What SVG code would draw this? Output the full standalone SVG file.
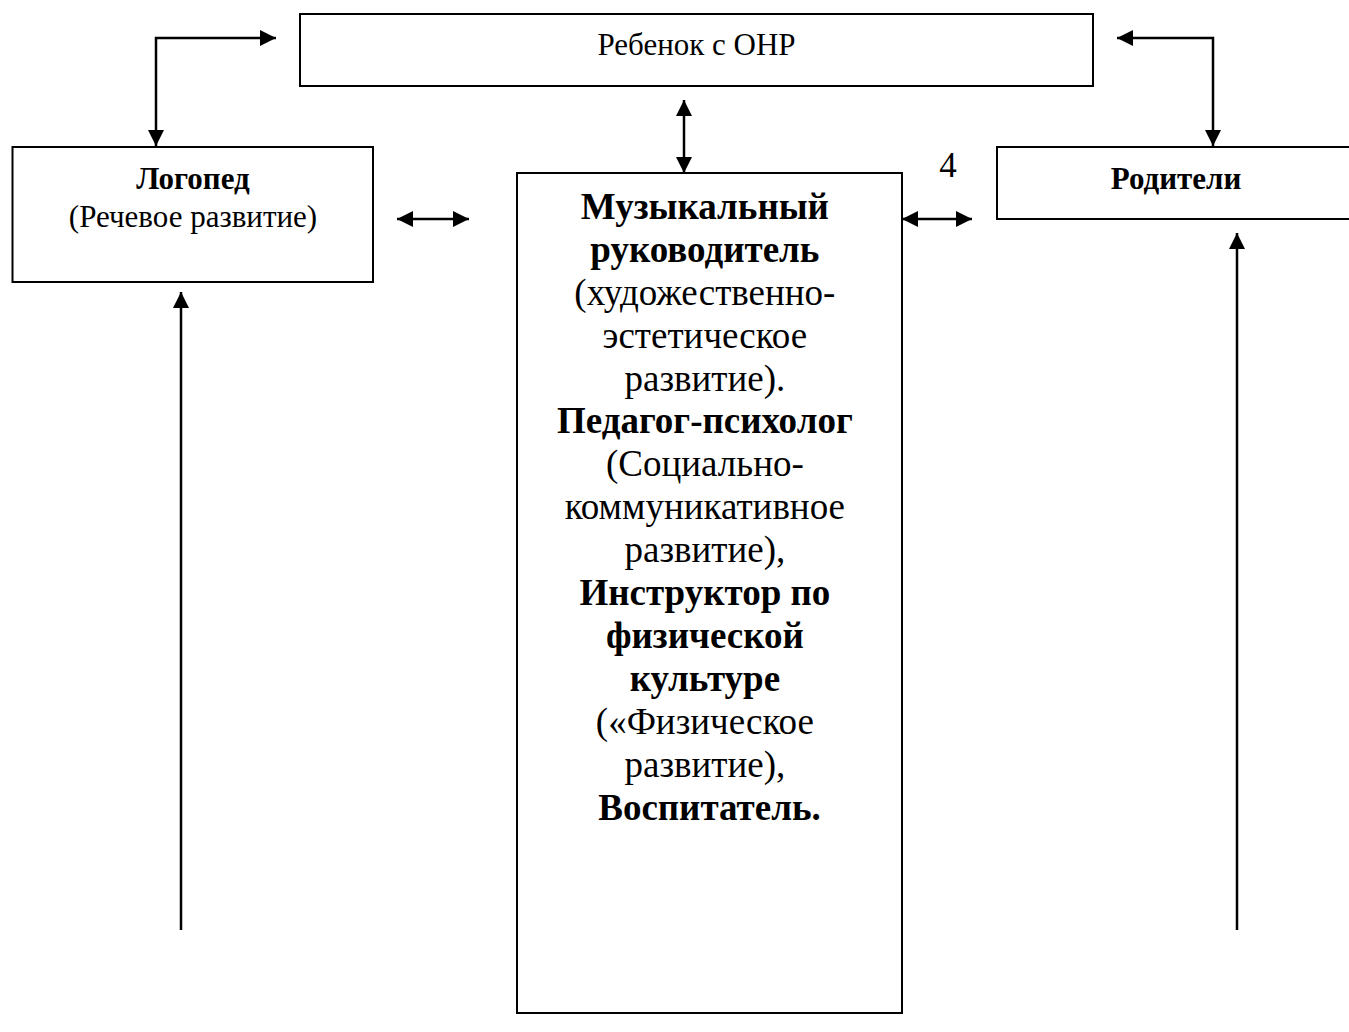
<svg xmlns="http://www.w3.org/2000/svg" width="1349" height="1032" viewBox="0 0 1349 1032">
<style>
.box{fill:#fff;stroke:#000;stroke-width:2}
.t{font-family:"Liberation Serif","Times New Roman",serif;fill:#000;text-anchor:middle}
.b{font-weight:bold}
.c{fill:none;stroke:#000;stroke-width:2.5}
</style>
<defs>
<marker id="ah" markerUnits="userSpaceOnUse" viewBox="0 0 16 16" refX="16" refY="8" markerWidth="16" markerHeight="16" orient="auto-start-reverse">
<path d="M0,0 L16,8 L0,16 Z" fill="#000"/>
</marker>
</defs>
<rect width="1349" height="1032" fill="#fff"/>
<g id="child">
<rect class="box" x="300" y="14" width="793" height="72"/>
<text class="t" x="696.5" y="55" font-size="31">Ребенок с ОНР</text>
</g>
<g id="logoped">
<rect class="box" x="12.5" y="147" width="360.5" height="135"/>
<text class="t b" x="193" y="189" font-size="31">Логопед</text>
<text class="t" x="193" y="227" font-size="31">(Речевое развитие)</text>
</g>
<g id="music">
<rect class="box" x="517" y="173" width="385" height="840"/>
<text class="t" font-size="37">
<tspan class="b" x="709.5" y="219">Музыкальный</tspan>
<tspan class="b" x="709.5" y="262">руководитель</tspan>
<tspan x="709.5" y="305">(художественно-</tspan>
<tspan x="709.5" y="348">эстетическое</tspan>
<tspan x="709.5" y="391">развитие).</tspan>
<tspan class="b" x="709.5" y="433">Педагог-психолог</tspan>
<tspan x="709.5" y="476">(Социально-</tspan>
<tspan x="709.5" y="519">коммуникативное</tspan>
<tspan x="709.5" y="562">развитие),</tspan>
<tspan class="b" x="709.5" y="605">Инструктор по</tspan>
<tspan class="b" x="709.5" y="648">физической</tspan>
<tspan class="b" x="709.5" y="691">культуре</tspan>
<tspan x="709.5" y="734">(«Физическое</tspan>
<tspan x="709.5" y="777">развитие),</tspan>
<tspan class="b" x="709.5" y="820">Воспитатель.</tspan>
</text>
</g>
<g id="parents">
<rect class="box" x="997" y="147" width="360" height="72"/>
<text class="t b" x="1176" y="189" font-size="31">Родители</text>
</g>
<g id="label4">
<text class="t" x="948" y="177" font-size="35">4</text>
</g>
<g id="connectors">
<path class="c" d="M276,38 H156 V146" marker-start="url(#ah)" marker-end="url(#ah)"/>
<path class="c" d="M1117,38 H1213 V146" marker-start="url(#ah)" marker-end="url(#ah)"/>
<path class="c" d="M684,100 V173" marker-start="url(#ah)" marker-end="url(#ah)"/>
<path class="c" d="M397,219 H469" marker-start="url(#ah)" marker-end="url(#ah)"/>
<path class="c" d="M902,219 H972" marker-start="url(#ah)" marker-end="url(#ah)"/>
<path class="c" d="M181,930 V292" marker-end="url(#ah)"/>
<path class="c" d="M1237,930 V233" marker-end="url(#ah)"/>
</g>
</svg>
